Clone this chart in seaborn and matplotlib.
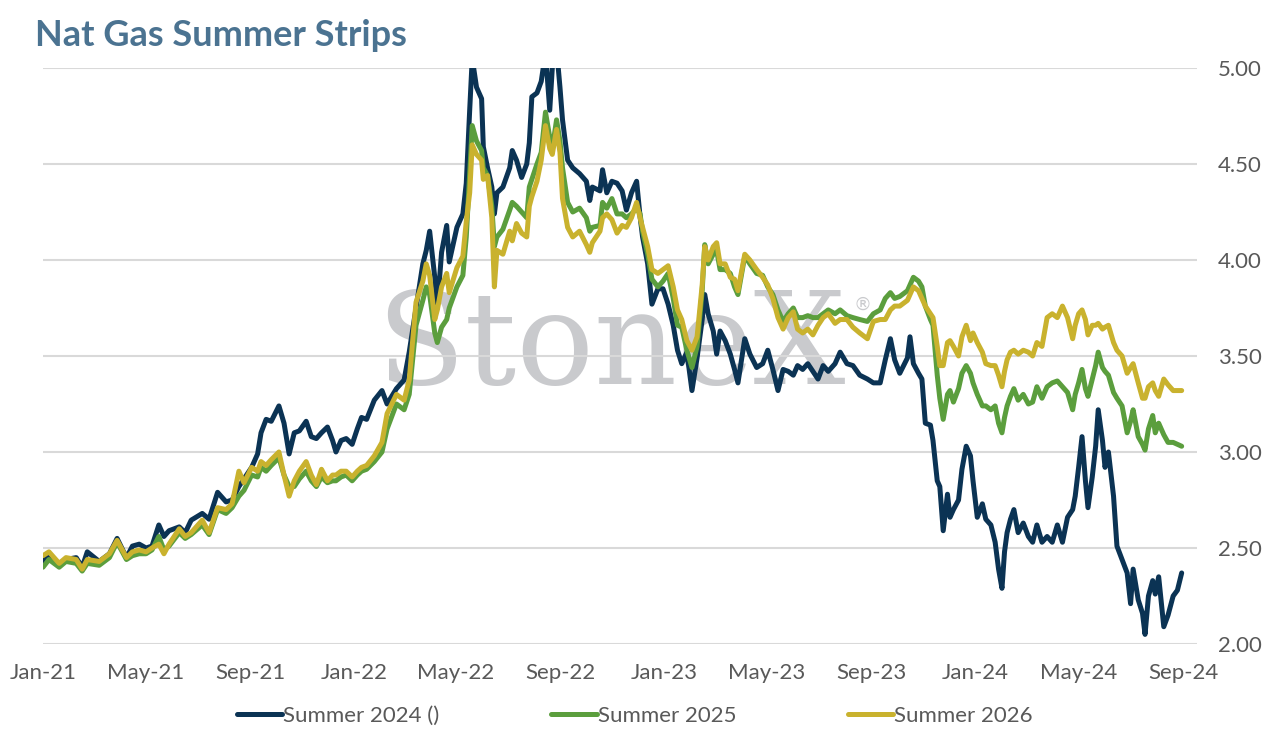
import matplotlib
matplotlib.use('Agg')
import matplotlib.pyplot as plt
import matplotlib.dates as mdates
import matplotlib.ticker as mticker
import seaborn as sns
import pandas as pd

# ---------------- data ----------------
dates = [
    '2021-01-01','2021-01-08','2021-01-20','2021-01-28','2021-02-09','2021-02-16','2021-02-22','2021-03-08','2021-03-20','2021-03-29',
    '2021-04-09','2021-04-16','2021-04-24','2021-05-02','2021-05-09','2021-05-17','2021-05-23','2021-05-29','2021-06-10','2021-06-17',
    '2021-06-24','2021-07-07','2021-07-15','2021-07-25','2021-08-04','2021-08-11','2021-08-19','2021-08-25','2021-09-03','2021-09-10',
    '2021-09-14','2021-09-20','2021-09-26','2021-10-05','2021-10-11','2021-10-17','2021-10-23','2021-10-29','2021-11-06','2021-11-12',
    '2021-11-18','2021-11-24','2021-12-01','2021-12-07','2021-12-11','2021-12-17','2021-12-23','2021-12-30','2022-01-05','2022-01-10',
    '2022-01-16','2022-01-25','2022-02-03','2022-02-09','2022-02-20','2022-03-01','2022-03-07','2022-03-15','2022-03-23','2022-03-27',
    '2022-03-31','2022-04-06','2022-04-09','2022-04-14','2022-04-20','2022-04-23','2022-05-02','2022-05-09','2022-05-13','2022-05-17',
    '2022-05-20','2022-05-25','2022-05-31','2022-06-02','2022-06-07','2022-06-12','2022-06-15','2022-06-18','2022-06-25','2022-07-03',
    '2022-07-06','2022-07-11','2022-07-17','2022-07-23','2022-07-26','2022-07-29','2022-08-04','2022-08-09','2022-08-14','2022-08-19',
    '2022-08-22','2022-08-27','2022-08-31','2022-09-03','2022-09-09','2022-09-15','2022-09-23','2022-10-01','2022-10-05','2022-10-08',
    '2022-10-17','2022-10-20','2022-10-25','2022-10-31','2022-11-06','2022-11-12','2022-11-17','2022-11-23','2022-11-29','2022-12-03',
    '2022-12-06','2022-12-12','2022-12-17','2022-12-24','2022-12-30','2023-01-05','2023-01-11','2023-01-16','2023-01-21','2023-01-27',
    '2023-02-02','2023-02-08','2023-02-14','2023-02-17','2023-02-21','2023-02-27','2023-03-03','2023-03-07','2023-03-13','2023-03-19',
    '2023-03-24','2023-03-28','2023-04-05','2023-04-11','2023-04-19','2023-04-26','2023-05-02','2023-05-08','2023-05-14','2023-05-20',
    '2023-05-26','2023-06-01','2023-06-06','2023-06-12','2023-06-18','2023-06-24','2023-06-30','2023-07-06','2023-07-12','2023-07-20',
    '2023-07-26','2023-08-03','2023-08-10','2023-08-18','2023-08-27','2023-09-03','2023-09-11','2023-09-17','2023-09-23','2023-09-28',
    '2023-10-04','2023-10-13','2023-10-16','2023-10-20','2023-10-26','2023-10-30','2023-11-03','2023-11-09','2023-11-12','2023-11-17',
    '2023-11-20','2023-11-24','2023-11-29','2023-12-02','2023-12-06','2023-12-12','2023-12-16','2023-12-21','2023-12-26','2023-12-29',
    '2024-01-03','2024-01-09','2024-01-13','2024-01-19','2024-01-24','2024-01-28','2024-02-01','2024-02-04','2024-02-07','2024-02-11',
    '2024-02-15','2024-02-20','2024-02-26','2024-03-03','2024-03-08','2024-03-13','2024-03-19','2024-03-25','2024-03-31','2024-04-06',
    '2024-04-12','2024-04-18','2024-04-24','2024-04-27','2024-05-01','2024-05-05','2024-05-09','2024-05-12','2024-05-17','2024-05-21',
    '2024-05-24','2024-05-29','2024-06-01','2024-06-05','2024-06-11','2024-06-15','2024-06-21','2024-06-27','2024-07-01','2024-07-04',
    '2024-07-10','2024-07-15','2024-07-18','2024-07-22','2024-07-27','2024-07-30','2024-08-03','2024-08-09','2024-08-14','2024-08-20','2024-08-25','2024-08-30',
]

summer_2024 = [
    2.43,2.46,2.41,2.44,2.45,2.40,2.48,2.43,2.47,2.55,
    2.45,2.51,2.52,2.50,2.51,2.62,2.56,2.59,2.61,2.58,
    2.645,2.68,2.65,2.79,2.74,2.75,2.82,2.86,2.92,2.99,
    3.10,3.17,3.16,3.24,3.15,2.99,3.10,3.11,3.16,3.08,
    3.07,3.10,3.13,3.06,3.00,3.06,3.07,3.04,3.12,3.18,
    3.17,3.27,3.32,3.25,3.33,3.375,3.52,3.75,3.98,4.05,
    4.15,3.91,3.75,4.04,4.18,3.99,4.17,4.24,4.40,4.78,
    5.05,4.90,4.84,4.59,4.48,4.38,4.24,4.35,4.38,4.48,
    4.57,4.52,4.43,4.50,4.61,4.85,4.87,4.93,5.08,4.78,
    5.00,5.10,4.90,4.73,4.52,4.48,4.45,4.41,4.31,4.38,
    4.36,4.47,4.35,4.41,4.40,4.36,4.26,4.35,4.41,4.23,
    4.12,3.98,3.77,3.85,3.85,3.77,3.66,3.53,3.46,3.52,
    3.32,3.49,3.69,3.82,3.72,3.63,3.51,3.63,3.58,3.51,
    3.43,3.36,3.59,3.51,3.44,3.46,3.53,3.43,3.32,3.43,
    3.42,3.40,3.45,3.43,3.46,3.42,3.38,3.45,3.42,3.46,
    3.52,3.46,3.45,3.40,3.38,3.36,3.36,3.48,3.59,3.48,
    3.41,3.49,3.60,3.46,3.41,3.38,3.15,3.14,3.06,2.85,
    2.82,2.59,2.78,2.66,2.70,2.75,2.91,3.03,2.98,2.85,
    2.66,2.73,2.65,2.62,2.53,2.39,2.29,2.48,2.58,2.65,
    2.70,2.58,2.63,2.56,2.53,2.62,2.53,2.56,2.53,2.62,
    2.53,2.66,2.70,2.77,2.92,3.08,2.85,2.71,2.87,3.03,
    3.22,3.06,2.92,3.00,2.77,2.51,2.44,2.37,2.21,2.39,
    2.23,2.16,2.05,2.25,2.33,2.26,2.35,2.09,2.15,2.25,2.28,2.37,
]

summer_2025 = [
    2.40,2.44,2.40,2.43,2.42,2.38,2.42,2.41,2.45,2.53,
    2.44,2.46,2.47,2.47,2.49,2.56,2.49,2.51,2.58,2.55,
    2.57,2.62,2.57,2.70,2.68,2.71,2.77,2.80,2.88,2.87,
    2.92,2.90,2.93,2.97,2.88,2.82,2.82,2.86,2.90,2.85,
    2.82,2.87,2.84,2.85,2.85,2.87,2.88,2.85,2.88,2.90,
    2.91,2.95,3.00,3.12,3.25,3.22,3.30,3.66,3.79,3.86,
    3.82,3.62,3.57,3.65,3.69,3.75,3.86,3.92,4.12,4.45,
    4.70,4.62,4.57,4.48,4.44,4.28,4.07,4.12,4.16,4.26,
    4.30,4.28,4.25,4.22,4.38,4.42,4.50,4.56,4.77,4.64,
    4.58,4.73,4.62,4.48,4.30,4.25,4.27,4.22,4.15,4.17,
    4.18,4.30,4.27,4.32,4.24,4.24,4.22,4.24,4.27,4.24,
    4.15,4.03,3.90,3.86,3.89,3.93,3.80,3.66,3.65,3.53,
    3.44,3.55,3.84,4.08,3.98,4.03,4.05,3.95,3.95,3.93,
    3.86,3.82,4.02,3.98,3.93,3.92,3.86,3.82,3.74,3.68,
    3.72,3.75,3.70,3.70,3.71,3.70,3.70,3.72,3.74,3.72,
    3.74,3.71,3.70,3.69,3.68,3.72,3.74,3.80,3.83,3.80,
    3.81,3.84,3.87,3.91,3.89,3.86,3.76,3.69,3.66,3.40,
    3.28,3.17,3.30,3.32,3.26,3.33,3.41,3.45,3.41,3.36,
    3.30,3.24,3.24,3.22,3.24,3.15,3.10,3.18,3.24,3.29,
    3.33,3.27,3.30,3.25,3.26,3.34,3.28,3.34,3.36,3.37,
    3.34,3.31,3.22,3.30,3.36,3.43,3.33,3.29,3.38,3.45,
    3.52,3.44,3.42,3.40,3.31,3.28,3.24,3.10,3.16,3.22,
    3.08,3.04,3.01,3.12,3.19,3.10,3.15,3.09,3.05,3.05,3.04,3.03,
]

summer_2026 = [
    2.46,2.48,2.42,2.45,2.44,2.39,2.44,2.43,2.47,2.54,
    2.45,2.48,2.49,2.48,2.50,2.52,2.47,2.52,2.60,2.56,
    2.58,2.645,2.58,2.71,2.70,2.73,2.90,2.84,2.92,2.90,
    2.95,2.93,2.96,3.00,2.88,2.77,2.85,2.90,2.95,2.88,
    2.83,2.91,2.85,2.88,2.88,2.90,2.90,2.87,2.90,2.92,
    2.93,2.98,3.05,3.20,3.30,3.27,3.375,3.78,3.89,3.98,
    3.92,3.69,3.74,3.86,3.93,3.83,3.96,4.02,4.20,4.35,
    4.60,4.55,4.52,4.42,4.44,4.22,3.86,4.05,4.03,4.15,
    4.10,4.19,4.14,4.12,4.28,4.33,4.41,4.52,4.70,4.58,
    4.55,4.68,4.56,4.32,4.17,4.12,4.15,4.08,4.04,4.09,
    4.15,4.22,4.24,4.21,4.14,4.18,4.17,4.22,4.30,4.22,
    4.17,4.07,3.95,3.93,3.95,3.97,3.86,3.74,3.69,3.58,
    3.53,3.60,3.87,4.07,4.00,4.07,4.09,3.98,3.98,3.91,
    3.90,3.84,4.03,4.00,3.95,3.91,3.87,3.80,3.70,3.64,
    3.70,3.73,3.64,3.62,3.64,3.61,3.66,3.70,3.72,3.67,
    3.69,3.69,3.65,3.62,3.59,3.68,3.69,3.69,3.74,3.76,
    3.76,3.79,3.82,3.86,3.84,3.80,3.76,3.72,3.70,3.55,
    3.45,3.45,3.57,3.58,3.55,3.50,3.60,3.66,3.58,3.62,
    3.57,3.52,3.46,3.45,3.45,3.40,3.34,3.42,3.48,3.52,
    3.53,3.51,3.53,3.52,3.50,3.57,3.55,3.70,3.72,3.70,
    3.76,3.70,3.59,3.66,3.72,3.74,3.69,3.61,3.66,3.66,
    3.67,3.64,3.65,3.66,3.57,3.53,3.50,3.41,3.44,3.46,
    3.36,3.28,3.28,3.34,3.36,3.32,3.29,3.38,3.35,3.32,3.32,3.32,
]

series_labels = ['Summer 2024 ()', 'Summer 2025', 'Summer 2026']
series_colors = ['#0B3354', '#5B9E3D', '#C9B22E']
y_ticks = [2.0, 2.5, 3.0, 3.5, 4.0, 4.5, 5.0]
title_text = 'Nat Gas Summer Strips'
watermark_text = 'StoneX'

# ---------------- build long-form table ----------------
frames = []
for lab, vals in zip(series_labels, [summer_2024, summer_2025, summer_2026]):
    frames.append(pd.DataFrame({'date': pd.to_datetime(dates), 'price': vals, 'series': lab}))
df = pd.concat(frames, ignore_index=True)

# ---------------- style ----------------
sns.set_style('white')
plt.rcParams['font.family'] = ['Lato', 'DejaVu Sans']

W, H = 1271, 734
fig = plt.figure(figsize=(W / 100, H / 100), dpi=100)
ax = fig.add_axes([43 / W, 1 - 644 / H, (1197 - 43) / W, (644 - 68) / H])

sns.lineplot(data=df, x='date', y='price', hue='series', hue_order=series_labels,
             palette=series_colors, linewidth=3.6, estimator=None, ax=ax)

# watermark
ax.text(611 / W, 1 - 384 / H, watermark_text, transform=fig.transFigure,
        ha='center', va='baseline', fontsize=93, family='DejaVu Serif',
        color='#c9cacd', zorder=0.2)
ax.text(854 / W, 1 - 305 / H, '\u00ae', transform=fig.transFigure,
        ha='left', va='center', fontsize=13, family='DejaVu Sans',
        color='#c9cacd', zorder=0.2)

# axes
ax.set_xlim(pd.Timestamp('2021-01-01'), pd.Timestamp('2024-09-17'))
ax.set_ylim(2.0, 5.0)
ax.set_yticks(y_ticks)
ax.yaxis.set_major_formatter(mticker.FormatStrFormatter('%.2f'))
ax.yaxis.tick_right()
ax.xaxis.set_major_locator(mdates.MonthLocator(bymonth=[1, 5, 9]))
ax.xaxis.set_major_formatter(mdates.DateFormatter('%b-%y'))
ax.set_xlabel('')
ax.set_ylabel('')
ax.set_axisbelow(True)
ax.yaxis.grid(True, color='#d9d9d9', linewidth=1.5)
ax.xaxis.grid(False)
for s in ax.spines.values():
    s.set_visible(False)
ax.tick_params(axis='both', length=0, labelsize=16, labelcolor='#595959')
ax.tick_params(axis='x', pad=14)
ax.tick_params(axis='y', pad=15)

# title
fig.text(35 / W, 1 - 46 / H, title_text, ha='left', va='baseline',
         fontsize=26, fontweight='bold', color='#4B7391')

# legend
handles, labels = ax.get_legend_handles_labels()
if ax.get_legend() is not None:
    ax.get_legend().remove()
fig.legend(handles, labels, loc='center', bbox_to_anchor=(635 / W, 1 - 716 / H),
           ncol=3, frameon=False, fontsize=16, handlelength=2.03,
           handletextpad=0.05, columnspacing=5.04, labelcolor='#595959')

fig.savefig('out.png', dpi=100)
